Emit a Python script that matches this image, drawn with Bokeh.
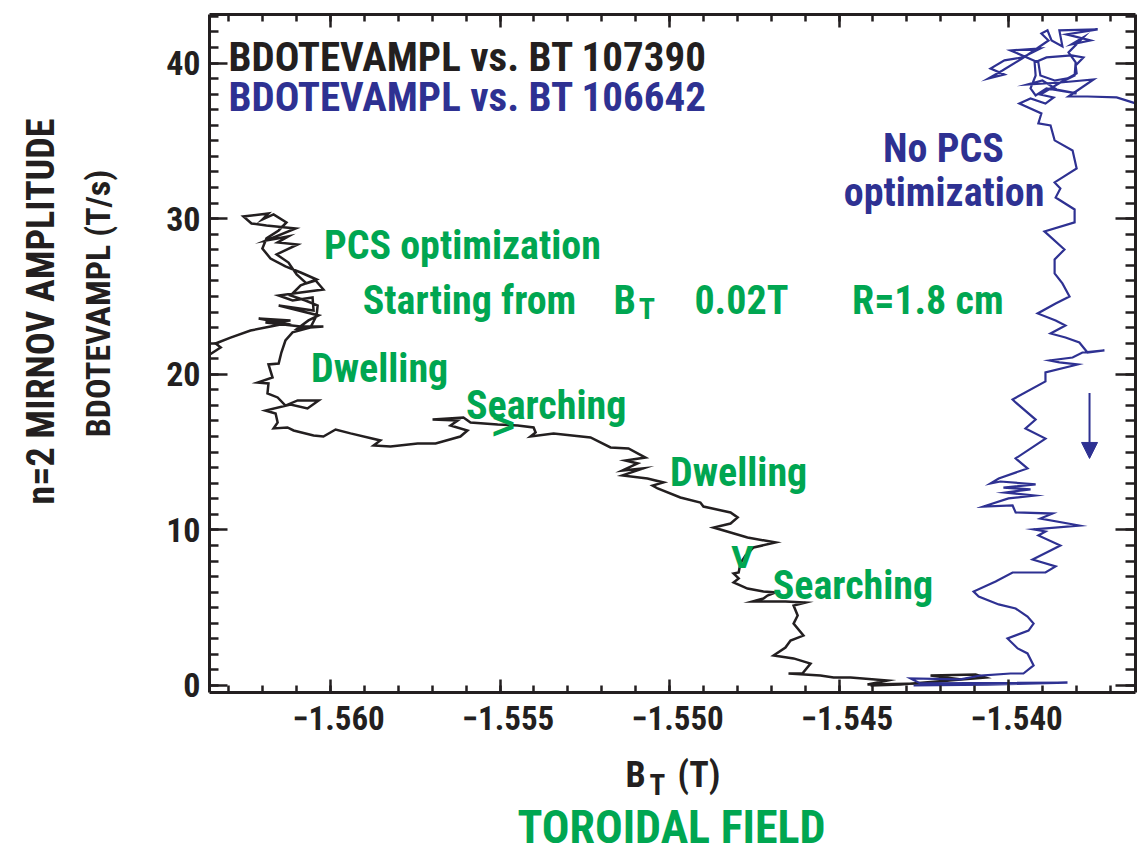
import numpy as np
from bokeh.plotting import figure
from bokeh.layouts import row, column
from bokeh.models import (Label, Arrow, NormalHead, LinearAxis, FixedTicker,
                          CustomJSTickFormatter, Range1d)
from bokeh.core.properties import value
from bokeh.embed import file_html
from bokeh.resources import INLINE

# ---------------- data ----------------
# shot 107390 (black): toroidal field BT (T) and n=2 Mirnov amplitude (T/s)
bt_107390 = [
    -1.56383, -1.56324, -1.56339, -1.56295, -1.56236, -1.56177, -1.56133, -1.56212,
    -1.56118, -1.56192, -1.56088, -1.56021, -1.56097, -1.56065, -1.56035, -1.56153,
    -1.56050, -1.56053, -1.56112, -1.56153, -1.56088, -1.56021, -1.56044, -1.56071,
    -1.56100, -1.56124, -1.56159, -1.56097, -1.56156, -1.56124, -1.56189, -1.56103,
    -1.56189, -1.56233, -1.56257, -1.56183, -1.56201, -1.56168, -1.56130, -1.56153,
    -1.56189, -1.56201, -1.56177, -1.56133, -1.56088, -1.56041, -1.56088, -1.56118,
    -1.56074, -1.56038, -1.56041, -1.56059, -1.56112, -1.56133, -1.56145, -1.56153,
    -1.56183, -1.56171, -1.56215, -1.56183, -1.56186, -1.56156, -1.56133, -1.56097,
    -1.56035, -1.56068, -1.56118, -1.56192, -1.56162, -1.56156, -1.56168, -1.56127,
    -1.56109, -1.56050, -1.56021, -1.55985, -1.55941, -1.55853, -1.55873, -1.55823,
    -1.55743, -1.55690, -1.55617, -1.55596, -1.55646, -1.55625, -1.55699, -1.55608,
    -1.55587, -1.55507, -1.55448, -1.55401, -1.55395, -1.55410, -1.55342, -1.55233,
    -1.55174, -1.55121, -1.55071, -1.55130, -1.55094, -1.55139, -1.55077, -1.55139,
    -1.55065, -1.55018, -1.55050, -1.55035, -1.54968, -1.54909, -1.54900, -1.54820,
    -1.54799, -1.54820, -1.54870, -1.54820, -1.54770, -1.54687, -1.54752, -1.54776,
    -1.54791, -1.54796, -1.54811, -1.54796, -1.54811, -1.54770, -1.54723, -1.54687,
    -1.54711, -1.54723, -1.54755, -1.54658, -1.54599, -1.54634, -1.54622, -1.54634,
    -1.54605, -1.54643, -1.54658, -1.54693, -1.54634, -1.54584, -1.54608, -1.54649,
    -1.54555, -1.54516, -1.54466, -1.54357, -1.54416, -1.54260, -1.54142, -1.54230,
    -1.54097, -1.54068, -1.54319, -1.54407]
amp_107390 = [
    20.89, 21.72, 21.98, 22.36, 22.81, 23.07, 23.26, 23.59,
    23.46, 23.33, 23.07, 23.07, 22.94, 23.46, 23.78, 24.42,
    24.10, 24.94, 24.74, 25.06, 25.26, 25.45, 26.03, 25.84,
    26.41, 27.18, 27.70, 28.34, 28.47, 28.86, 28.60, 29.37,
    29.56, 29.69, 30.14, 30.33, 29.95, 30.27, 29.76, 29.24,
    28.73, 28.08, 27.44, 26.93, 26.54, 26.09, 25.71, 25.06,
    24.74, 24.42, 23.78, 23.01, 22.69, 22.17, 21.40, 20.69,
    20.63, 19.79, 19.47, 19.41, 18.77, 18.51, 17.99, 18.32,
    18.32, 17.80, 18.06, 17.67, 17.48, 16.90, 16.52, 16.58,
    16.39, 16.07, 16.00, 16.45, 16.20, 15.75, 15.42, 15.36,
    15.55, 15.55, 16.00, 16.39, 16.71, 17.03, 17.09, 17.22,
    16.90, 16.77, 16.71, 16.58, 16.26, 16.00, 16.20, 15.94,
    15.30, 15.23, 14.65, 14.46, 14.27, 13.82, 13.95, 13.50,
    13.30, 13.05, 12.85, 12.66, 12.08, 11.76, 11.50, 11.12,
    10.80, 10.41, 10.15, 9.83, 9.51, 9.19, 8.87, 8.35,
    7.84, 7.26, 7.20, 6.88, 6.62, 6.23, 6.04, 5.98,
    5.78, 5.59, 5.40, 5.40, 5.33, 5.14, 4.50, 3.98,
    3.21, 2.89, 2.44, 1.93, 1.74, 1.41, 0.77, 0.77,
    0.64, 0.51, 0.51, 0.32, 0.06, 0.13, 0.39, 0.64,
    0.71, 0.51, 0.06, 0.00]

# shot 106642 (blue)
bt_106642 = [
    -1.53596, -1.53681, -1.53767, -1.53823, -1.53749, -1.53847, -1.53944, -1.53900,
    -1.53858, -1.53799, -1.53888, -1.53920, -1.53935, -1.53920, -1.53923, -1.53888,
    -1.53814, -1.53779, -1.53802, -1.53799, -1.53826, -1.53864, -1.53906, -1.53912,
    -1.53994, -1.53906, -1.53959, -1.54012, -1.54053, -1.54012, -1.54059, -1.54018,
    -1.53959, -1.53882, -1.53903, -1.53885, -1.53873, -1.53841, -1.53850, -1.53737,
    -1.53829, -1.53758, -1.53814, -1.53779, -1.53823, -1.53802, -1.53805, -1.53847,
    -1.53906, -1.53867, -1.53891, -1.53935, -1.53968, -1.53903, -1.53912, -1.53876,
    -1.53864, -1.53811, -1.53799, -1.53864, -1.53847, -1.53861, -1.53805, -1.53805,
    -1.53894, -1.53835, -1.53864, -1.53864, -1.53841, -1.53820, -1.53861, -1.53914,
    -1.53861, -1.53832, -1.53876, -1.53832, -1.53791, -1.53767, -1.53717, -1.53782,
    -1.53811, -1.53879, -1.53850, -1.53796, -1.53891, -1.53891, -1.53988, -1.53979,
    -1.53920, -1.53950, -1.53891, -1.53979, -1.53944, -1.54029, -1.54053, -1.54024,
    -1.53920, -1.54015, -1.53935, -1.54009, -1.53923, -1.54000, -1.54074, -1.53988,
    -1.53979, -1.53870, -1.53906, -1.53791, -1.53926, -1.53891, -1.53912, -1.53847,
    -1.53876, -1.53929, -1.53861, -1.53891, -1.53988, -1.54038, -1.54103, -1.54088,
    -1.54029, -1.53979, -1.53944, -1.53926, -1.53941, -1.54003, -1.53973, -1.53944,
    -1.53926, -1.53956, -1.53994, -1.54083, -1.54142, -1.54289, -1.54260, -1.53826,
    -1.54062, -1.54280]
amp_106642 = [
    37.21, 37.79, 37.85, 37.85, 38.95, 38.75, 38.62, 38.88,
    38.30, 38.05, 38.37, 37.92, 38.37, 39.20, 40.04, 40.36,
    40.49, 40.36, 39.85, 39.33, 39.01, 38.88, 39.20, 40.04,
    40.81, 40.94, 40.36, 40.17, 39.65, 39.27, 39.01, 39.52,
    40.30, 41.45, 41.90, 42.10, 41.45, 41.07, 42.10, 42.16,
    41.84, 41.45, 41.20, 41.65, 40.68, 40.04, 39.20, 38.75,
    37.98, 37.79, 37.40, 37.72, 37.40, 36.76, 36.12, 35.99,
    35.03, 34.38, 33.23, 32.33, 31.94, 31.36, 30.59, 29.76,
    29.18, 28.02, 27.38, 26.48, 25.84, 25.00, 24.55, 23.91,
    23.46, 23.14, 22.62, 22.36, 22.04, 21.40, 21.53, 21.40,
    21.08, 20.89, 20.76, 20.63, 20.12, 19.54, 18.38, 18.19,
    17.09, 16.52, 15.87, 14.59, 13.95, 13.30, 12.98, 13.11,
    12.92, 12.72, 12.60, 12.40, 12.21, 12.02, 11.50, 11.57,
    11.12, 11.05, 10.73, 10.28, 10.03, 9.90, 9.64, 9.00,
    8.68, 8.10, 7.65, 7.26, 7.26, 6.68, 6.04, 5.72,
    5.21, 4.95, 4.43, 3.98, 3.53, 3.02, 2.38, 2.06,
    1.29, 0.77, 0.77, 0.64, 0.39, 0.45, 0.13, 0.19,
    0.06, 0.00]

x_ticks = [-1.560, -1.555, -1.550, -1.545, -1.540]
y_ticks = [0, 10, 20, 30, 40]
x_minor = [round(-1.563 + 0.001 * i, 3) for i in range(27)]
y_minor = list(range(0, 44))

# search-direction markers (BT, amplitude)
marker_bt = [-1.55490, -1.54785]
marker_amp = [16.71, 8.42]
marker_txt = [">", "v"]

# ---------------- styling ----------------
FONT = "Roboto Condensed, DejaVu Sans Condensed, Liberation Sans"
BLACK = "#231f20"
BLUE = "#2e3192"
GREEN = "#00a651"

LEFT_W = 130                       # strip holding the y-axis titles
FRAME_TOP, FRAME_H = 14, 678
BOTTOM_BORDER = 50
MAIN_H = FRAME_TOP + FRAME_H + BOTTOM_BORDER
BOTTOM_H = 851 - MAIN_H
BOTTOM_FRAME_OFF = 14              # the bottom strip's frame sits this far below its top

p = figure(frame_width=926, frame_height=FRAME_H,
           x_range=Range1d(-1.56357, -1.536254), y_range=Range1d(-0.45, 43.12),
           output_backend="svg", toolbar_location=None,
           min_border_left=209 - LEFT_W, min_border_right=3, min_border_top=FRAME_TOP,
           min_border_bottom=BOTTOM_BORDER)
p.outline_line_color = None
p.xgrid.visible = False
p.ygrid.visible = False
p.background_fill_color = "white"
p.border_fill_color = "white"

fmt_x = CustomJSTickFormatter(code="return '\u2007' + (tick < 0 ? '\u2212' : '') + Math.abs(tick).toFixed(3);")
fmt_none = CustomJSTickFormatter(code="return '';")


def style_axis(ax, major_len, minor_len, font_size, standoff):
    ax.axis_line_width = 3
    ax.axis_line_color = BLACK
    ax.major_tick_line_width = 2.5
    ax.minor_tick_line_width = 2.5
    ax.major_tick_line_color = BLACK
    ax.minor_tick_line_color = BLACK
    ax.major_tick_in = major_len
    ax.major_tick_out = 0
    ax.minor_tick_in = minor_len
    ax.minor_tick_out = 0
    ax.major_label_text_font = FONT
    ax.major_label_text_font_style = "bold"
    ax.major_label_text_color = BLACK
    ax.major_label_text_font_size = font_size
    ax.major_label_standoff = standoff
    ax.axis_label = None


xa = p.xaxis[0]
xa.ticker = FixedTicker(ticks=x_ticks, minor_ticks=x_minor)
xa.formatter = fmt_x
style_axis(xa, 13, 7, "33px", 6)

ya = p.yaxis[0]
ya.ticker = FixedTicker(ticks=y_ticks, minor_ticks=y_minor)
style_axis(ya, 18, 9, "34px", 9)

top = LinearAxis(ticker=FixedTicker(ticks=x_ticks, minor_ticks=x_minor), formatter=fmt_none)
style_axis(top, 13, 7, "10px", 0)
p.add_layout(top, "above")
right = LinearAxis(ticker=FixedTicker(ticks=y_ticks, minor_ticks=y_minor), formatter=fmt_none)
style_axis(right, 20, 10, "10px", 0)
p.add_layout(right, "right")

# ---------------- traces ----------------
p.line(bt_107390, amp_107390, line_color=BLACK, line_width=2.5, line_join="miter")
p.line(bt_106642, amp_106642, line_color=BLUE, line_width=2.2, line_join="miter")

p.text(x=marker_bt, y=marker_amp, text=marker_txt, text_color=GREEN,
       text_font=value("Liberation Sans"), text_font_size="40px", text_font_style="bold",
       text_align="center", text_baseline="middle")

p.add_layout(Arrow(end=NormalHead(size=16, fill_color=BLUE, line_color=BLUE),
                   x_start=-1.53761, y_start=18.80, x_end=-1.53761, y_end=14.59,
                   line_color=BLUE, line_width=2))


def lab(x, y, text, color, size, align="left"):
    p.add_layout(Label(x=x, y=y, text=text, text_color=color, text_font=FONT,
                       text_font_style="bold", text_font_size=size,
                       text_align=align, text_baseline="alphabetic"))


lab(-1.56301, 40.36, "BDOTEVAMPL vs. BT 107390", BLACK, "41px")
lab(-1.56301, 37.79, "BDOTEVAMPL vs. BT 106642", BLUE, "41px")
lab(-1.55611, 28.28, "PCS optimization", GREEN, "40px", "center")
lab(-1.55590, 24.74, "Starting from", GREEN, "40px", "center")
lab(-1.55165, 24.74, "B", GREEN, "40px")
lab(-1.55091, 24.23, "T", GREEN, "30px")
lab(-1.54788, 24.74, "0.02T", GREEN, "40px", "center")
lab(-1.54238, 24.74, "R=1.8 cm", GREEN, "40px", "center")
lab(-1.55855, 20.37, "Dwelling", GREEN, "40px", "center")
lab(-1.55364, 17.99, "Searching", GREEN, "40px", "center")
lab(-1.54796, 13.69, "Dwelling", GREEN, "40px", "center")
lab(-1.54459, 6.43, "Searching", GREEN, "40px", "center")
lab(-1.54192, 34.51, "No PCS", BLUE, "40px", "center")
lab(-1.54190, 31.68, "optimization", BLUE, "40px", "center")


# ---------------- title strips (left and bottom) ----------------
def strip(w, h, yr):
    f = figure(width=w, height=h, x_range=Range1d(0, w), y_range=yr,
               x_axis_location=None, y_axis_location=None, toolbar_location=None,
               output_backend="svg", min_border=0)
    f.outline_line_color = None
    f.grid.visible = False
    f.background_fill_color = "white"
    f.border_fill_color = "white"
    return f


def slabel(f, x, y, text, color, size, align="left", angle=0.0, baseline="alphabetic"):
    f.add_layout(Label(x=x, y=y, text=text, text_color=color, text_font=FONT,
                       text_font_style="bold", text_font_size=size,
                       text_align=align, text_baseline=baseline, angle=angle))


# left strip: its frame lines up with the main frame (rows 14..692 of the page)
left = strip(LEFT_W, MAIN_H, Range1d(0, FRAME_H))
fy = lambda py: FRAME_TOP + FRAME_H - py
slabel(left, 40, fy(311), "n=2 MIRNOV AMPLITUDE", BLACK, "38px", "center", np.pi / 2, "middle")
slabel(left, 97, fy(303), "BDOTEVAMPL (T/s)", BLACK, "34px", "center", np.pi / 2, "middle")

# bottom strip
bottom = strip(1138, BOTTOM_H, Range1d(0, BOTTOM_H))
by = lambda py: BOTTOM_H - (py - MAIN_H - BOTTOM_FRAME_OFF)
slabel(bottom, 625, by(788), "B", BLACK, "36px")
slabel(bottom, 649, by(798), "T", BLACK, "29px")
slabel(bottom, 677, by(788), "(T)", BLACK, "36px")
slabel(bottom, 671, by(840), "TOROIDAL FIELD", GREEN, "46px", "center")

layout = column(row(left, p, spacing=0), bottom, spacing=0)

with open("out.html", "w", encoding="utf-8") as f:
    f.write(file_html(layout, INLINE))
